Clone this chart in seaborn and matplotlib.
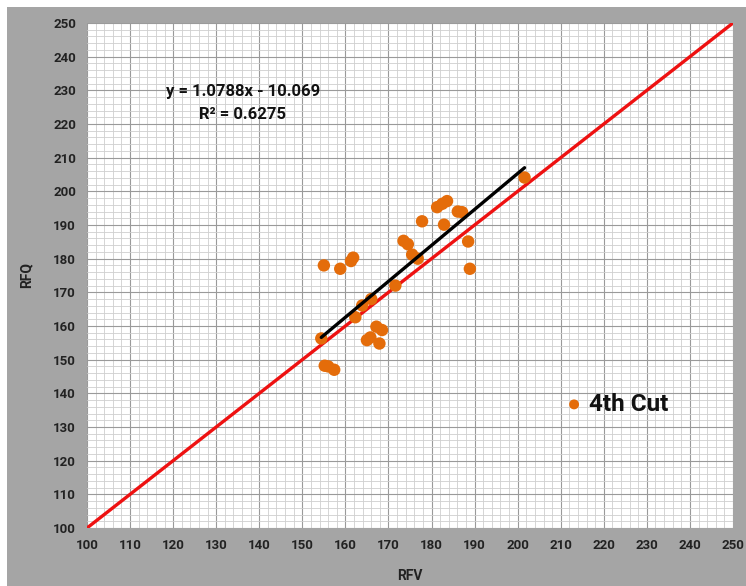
import matplotlib
matplotlib.use("Agg")
import matplotlib.pyplot as plt
from matplotlib.patches import Rectangle
from matplotlib.ticker import MultipleLocator
import numpy as np
import pandas as pd
import seaborn as sns

# ---- data ----
rfv = [154.4, 155.0, 158.8, 161.3, 161.8, 155.2, 156.0, 157.4, 162.3, 163.9,
       166.0, 165.0, 165.8, 167.2, 168.5, 167.9, 171.6, 173.5, 174.5, 175.5,
       176.8, 177.8, 181.3, 182.5, 183.6, 182.9, 186.1, 187.1, 188.5, 188.9,
       201.6]
rfq = [156.3, 178.0, 177.0, 179.3, 180.3, 148.2, 148.0, 147.0, 162.6, 166.1,
       168.0, 155.8, 156.6, 159.8, 158.8, 154.8, 172.0, 185.3, 184.3, 181.2,
       180.0, 191.1, 195.3, 196.3, 197.1, 190.1, 194.0, 193.8, 185.1, 177.0,
       204.1]
ref_x = [100, 250]
ref_y = [100, 250]
series_label = "4th Cut"
eq_text = "y = 1.0788x - 10.069"
r2_text = "R² = 0.6275"
x_label = "RFV"
y_label = "RFQ"

df = pd.DataFrame({"RFV": rfv, "RFQ": rfq})
ref = pd.DataFrame({"x": ref_x, "y": ref_y})

sns.set_theme(style="white")
plt.rcParams["font.family"] = ["Roboto", "DejaVu Sans"]

W, H = 746, 586
fig = plt.figure(figsize=(W / 100, H / 100), dpi=100, facecolor="white")
bg = Rectangle((7 / W, 0), 1 - 7 / W, 1 - 7 / H,
               transform=fig.transFigure, facecolor="#a5a5a5",
               edgecolor="none", zorder=-10)
fig.patches.append(bg)

ax = fig.add_axes([87 / W, 1 - 528 / H, (733 - 87) / W, (528 - 23) / H])
ax.set_zorder(5)
ax.set_facecolor("white")

orange = "#e46c0a"

# 1:1 line
sns.lineplot(data=ref, x="x", y="y", ax=ax, color="#ee1111", linewidth=2.4,
             zorder=3, legend=False)
# points
sns.scatterplot(data=df, x="RFV", y="RFQ", ax=ax, color=orange, s=80,
                edgecolor="none", zorder=4, label=series_label)
# trendline
sns.regplot(data=df, x="RFV", y="RFQ", ax=ax, scatter=False, ci=None,
            truncate=True, line_kws={"color": "black", "linewidth": 2.4,
                                     "zorder": 5})

ax.set_xlim(100, 250)
ax.set_ylim(100, 250)
ax.xaxis.set_major_locator(MultipleLocator(10))
ax.yaxis.set_major_locator(MultipleLocator(10))
ax.xaxis.set_minor_locator(MultipleLocator(2))
ax.yaxis.set_minor_locator(MultipleLocator(2))
ax.grid(which="major", color="#9a9a9a", linewidth=0.8, zorder=0)
ax.grid(which="minor", color="#cfcfcf", linewidth=0.6, zorder=0)
ax.set_axisbelow(True)
for sp in ax.spines.values():
    sp.set_visible(False)

ax.tick_params(axis="both", which="both", length=0, labelsize=9.5,
               labelcolor="#222222", pad=8)
for lab in ax.get_xticklabels() + ax.get_yticklabels():
    lab.set_fontweight("bold")

ax.set_xlabel(x_label, fontsize=10, fontweight="bold", color="#222222",
              labelpad=12)
ax.set_ylabel(y_label, fontsize=10, fontweight="bold", color="#222222",
              labelpad=14)

ax.text(0.241, 0.865, eq_text, transform=ax.transAxes, ha="center",
        va="center", fontsize=12, fontweight="bold", color="#111111")
ax.text(0.241, 0.818, r2_text, transform=ax.transAxes, ha="center",
        va="center", fontsize=12, fontweight="bold", color="#111111")

leg = ax.legend(loc="center left", bbox_to_anchor=(0.722, 0.245),
                frameon=False, fontsize=17.5, handletextpad=0.15,
                handlelength=0.9, markerscale=0.8, borderaxespad=0)
for t in leg.get_texts():
    t.set_fontweight("bold")
    t.set_color("#111111")

fig.savefig("out.png", dpi=100, facecolor="white")
